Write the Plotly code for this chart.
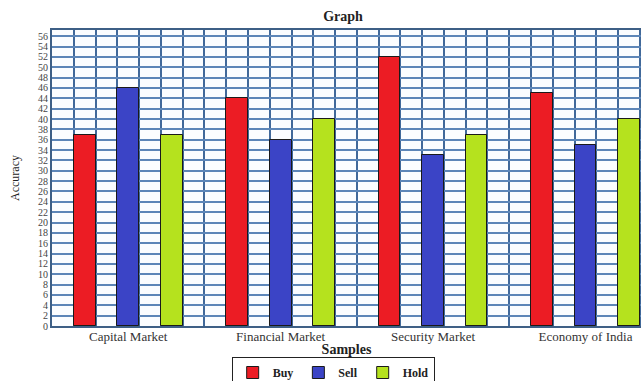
import plotly.graph_objects as go

categories = ["Capital Market", "Financial Market", "Security Market", "Economy of India"]
buy = [37, 44, 52, 45]
sell = [46, 36, 33, 35]
hold = [37, 40, 37, 40]
y_ticks = list(range(0, 57, 2))

# layout of columns: one empty column, then per group: Buy, gap, Sell, gap, Hold, gap, gap
GROUP = 7
def pos(offset):
    return [1 + GROUP * g + offset + 0.5 for g in range(len(categories))]

centers = [1 + GROUP * g + 2.5 for g in range(len(categories))]

serif = "Liberation Serif, Times New Roman, serif"
edge = dict(color="#1a1a1a", width=1)

fig = go.Figure()
fig.add_trace(go.Bar(x=pos(0), y=buy, name="Buy", width=1,
                     marker=dict(color="#ec1c24", line=edge)))
fig.add_trace(go.Bar(x=pos(2), y=sell, name="Sell", width=1,
                     marker=dict(color="#3b44c6", line=edge)))
fig.add_trace(go.Bar(x=pos(4), y=hold, name="Hold", width=1,
                     marker=dict(color="#b5e21e", line=edge)))

fig.update_layout(
    width=641, height=381,
    margin=dict(l=52, r=0, t=30, b=55, autoexpand=False),
    paper_bgcolor="white", plot_bgcolor="#fbfdff",
    bargap=0,
    title=dict(text="<b>Graph</b>", x=343 / 641, xanchor="center",
               y=1 - 16 / 381, yanchor="middle", yref="container",
               font=dict(family=serif, size=14, color="#222")),
    xaxis=dict(
        range=[0, 27.05], automargin=False,
        tickmode="array", tickvals=centers, ticktext=categories,
        showgrid=False, zeroline=False,
        ticks="", ticklen=0, ticklabelstandoff=-3,
        tickfont=dict(family=serif, size=13, color="#333"),
        showline=True, linecolor="#3d5f86", linewidth=2, mirror=True,
        minor=dict(tickmode="linear", tick0=0, dtick=1, showgrid=True,
                   gridcolor="#41699a", gridwidth=2, ticks=""),
        title=dict(text="<b>Samples</b>", standoff=8,
                   font=dict(family=serif, size=14, color="#222")),
    ),
    yaxis=dict(
        range=[0, 57.2], automargin=False,
        tickmode="array", tickvals=y_ticks,
        showgrid=True, gridcolor="#5d86b8", gridwidth=1.5,
        zeroline=False,
        tickfont=dict(family=serif, size=10, color="#444"),
        ticks="",
        showline=True, linecolor="#3d5f86", linewidth=2,
        title=dict(text="Accuracy", standoff=16,
                   font=dict(family=serif, size=12, color="#222")),
    ),
    showlegend=True,
    legend=dict(orientation="h", x=306 / 641, xanchor="center",
                yref="container", y=1 - 357 / 381, yanchor="top",
                bordercolor="#222", borderwidth=1, bgcolor="white",
                font=dict(family=serif, size=12, color="#222"),
                itemwidth=30, traceorder="normal"),
)
fig.update_layout(legend_font_weight="bold")

fig.write_html("out.html")
